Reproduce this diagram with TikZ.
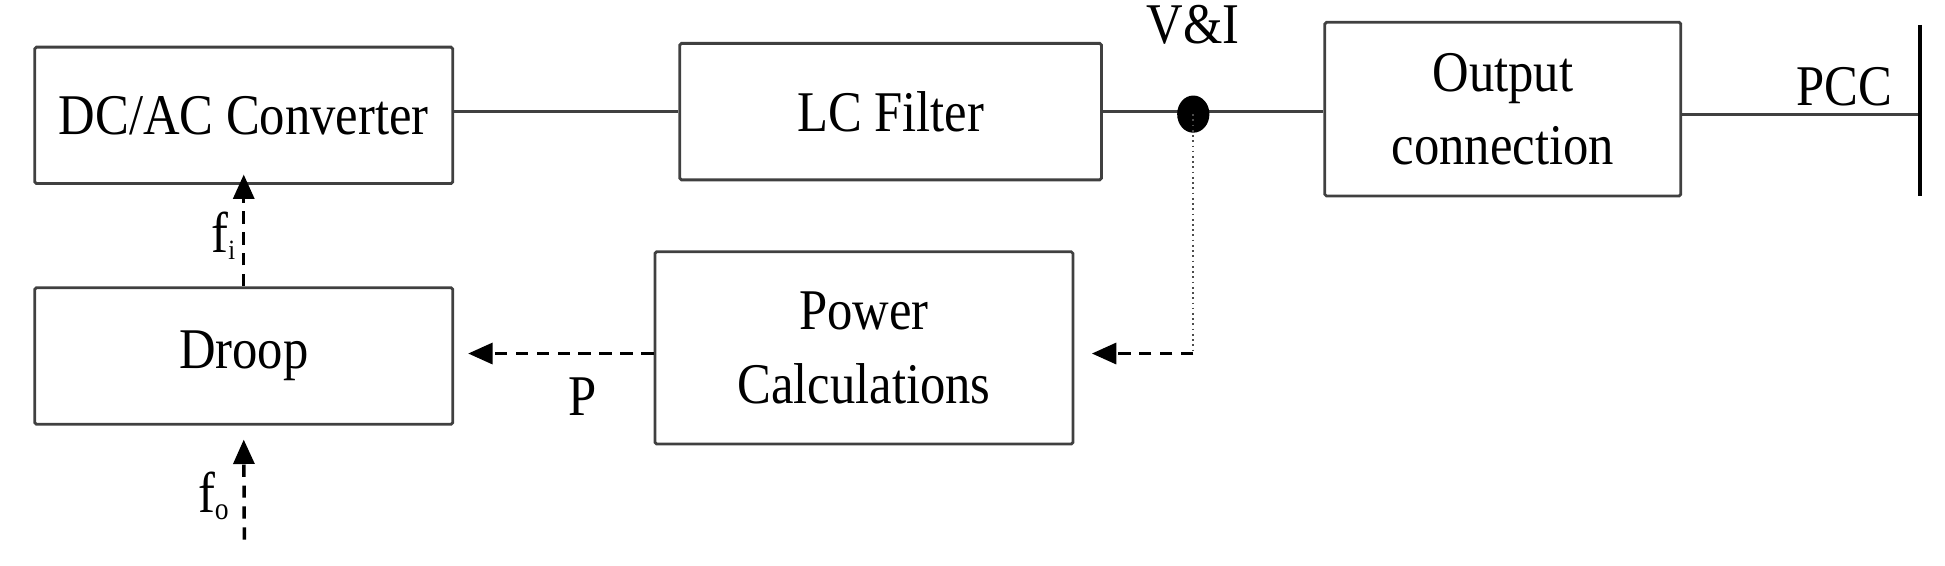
\documentclass[tikz,border=0pt]{standalone}
\usepackage{fontspec}
\setmainfont{Liberation Serif}[FakeStretch=0.88]
\usetikzlibrary{arrows.meta}
\begin{document}
\begin{tikzpicture}[x=0.025cm,y=-0.025cm,
  box/.style={draw=black!75,line width=1.6pt,rounded corners=1pt,inner sep=0pt,align=center,font=\fontsize{33}{42}\selectfont},
  lbl/.style={font=\fontsize{33}{36}\selectfont,inner sep=0pt},
  dsh/.style={line width=2pt,dash pattern=on 7pt off 5pt,-{Triangle[length=14pt,width=12pt]}},
  wire/.style={draw=black!75,line width=1.6pt}]
\useasboundingbox (0,0) rectangle (1568,455.5);
\node[box,minimum width=8.425cm,minimum height=2.75cm] (dc) at (196.5,93) {DC/AC Converter};
\node[box,minimum width=8.5cm,minimum height=2.75cm] (lc) at (718,90) {LC Filter};
\node[box,minimum width=7.175cm,minimum height=3.5cm] (oc) at (1211.5,88) {Output\\connection};
\node[box,minimum width=8.425cm,minimum height=2.75cm] (dr) at (196.5,287) {Droop};
\node[box,minimum width=8.425cm,minimum height=3.875cm] (pc) at (696.5,280.5) {Power\\Calculations};
\coordinate (dot) at (962,92);
\coordinate (pccend) at (1548,92);
\coordinate (bt) at (1548,20);
\coordinate (bb) at (1548,158);
\coordinate (turn) at (962,285);
\coordinate (fo) at (197,435);
\draw[wire] (dc.east|-lc) -- (lc.west);
\draw[wire] (lc.east) -- (oc.west|-lc);
\draw[wire] (oc.east|-pccend) -- (pccend);
\draw[line width=2.5pt] (bt) -- (bb);
\fill (dot) ellipse (13 and 15);
\draw[line width=1pt,dotted,black!70] (dot) -- (turn);
\draw[dsh] (turn) -- ([xshift=10pt]pc.east|-turn);
\draw[dsh] (pc.west|-turn) -- ([xshift=8pt]dr.east|-turn);
\draw[dsh] (dr.north) -- ([yshift=6pt]dc.south);
\draw[dsh] (fo) -- ([yshift=-8pt]dr.south);
\node[lbl] (vi) at (962,20) {V\&I};
\node[lbl] (pcc) at (1487,70) {PCC};
\node[lbl] (p) at (470,320) {P};
\node[lbl] (fi) at (180,190) {f{\fontsize{16}{16}\selectfont\raisebox{-4pt}{i}}};
\node[lbl] (fol) at (172,400) {f{\fontsize{18}{18}\selectfont\raisebox{-4pt}{o}}};
\end{tikzpicture}
\end{document}
